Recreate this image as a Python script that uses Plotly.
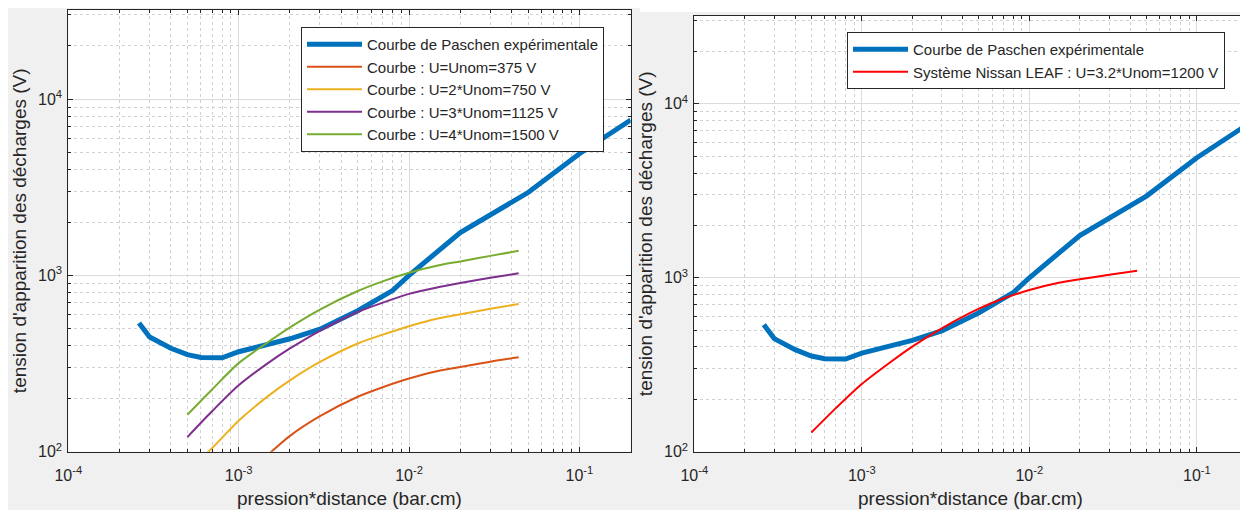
import plotly.graph_objects as go
import numpy as np

# ---------------- data ----------------
paschen_pd = [2.6e-4, 3e-4, 4e-4, 5e-4, 6e-4, 8e-4, 1e-3, 2e-3, 3e-3, 5e-3, 8e-3, 1e-2, 2e-2, 5e-2, 1e-1, 2e-1]
paschen_v = [537, 447, 386, 355, 342, 341, 369, 437, 495, 630, 820, 1000, 1750, 2950, 4900, 7600]

curve_pd = [5e-4, 7e-4, 1e-3, 1.5e-3, 2e-3, 3e-3, 5e-3, 7e-3, 1e-2, 1.5e-2, 2e-2, 3e-2, 4.4e-2]
u1_v = [39, 53, 71, 97, 123, 159, 205, 232, 260, 288, 302, 324, 343]
u2_v = [77, 105, 150, 208, 254, 323, 411, 461, 515, 571, 602, 646, 688]
u3_v = [121, 170, 238, 320, 385, 485, 620, 700, 785, 858, 906, 968, 1028]
u4_v = [162, 226, 318, 420, 507, 640, 815, 925, 1035, 1140, 1200, 1290, 1378]
nissan_v = [129, 178, 245, 330, 402, 512, 664, 760, 850, 935, 980, 1040, 1097]

x_tickvals = [1e-4, 1e-3, 1e-2, 1e-1]
x_ticktext = ["10<sup>-4</sup>", "10<sup>-3</sup>", "10<sup>-2</sup>", "10<sup>-1</sup>"]
y_tickvals = [1e2, 1e3, 1e4]
y_ticktext = ["10<sup>2</sup>", "10<sup>3</sup>", "10<sup>4</sup>"]

x_title = "pression*distance (bar.cm)"
y_title = "tension d'apparition des décharges (V)"

labels_left = ["Courbe de Paschen expérimentale", "Courbe : U=Unom=375 V",
               "Courbe : U=2*Unom=750 V", "Courbe : U=3*Unom=1125 V",
               "Courbe : U=4*Unom=1500 V"]
labels_right = ["Courbe de Paschen expérimentale",
                "Système Nissan LEAF : U=3.2*Unom=1200 V"]

C_BLUE = "#0072BD"
C_ORANGE = "#D95319"
C_YELLOW = "#EDB120"
C_PURPLE = "#7E2F8E"
C_GREEN = "#77AC30"
C_RED = "#FF0000"

W, H = 1248, 510
OFF = 8  # page body margin: figure is drawn 8 px right/down of the window corner
FONT = "Liberation Sans, Arial, Helvetica, sans-serif"
TXT = "#262626"


def px(sx):
    return (sx - OFF) / W


def py(sy):
    return 1 - (sy - OFF) / H


fig = go.Figure()

# left subplot
fig.add_trace(go.Scatter(x=paschen_pd, y=paschen_v, mode="lines", name=labels_left[0],
                         line=dict(color=C_BLUE, width=5), xaxis="x", yaxis="y", legend="legend"))
for vals, col, lab in [(u1_v, C_ORANGE, labels_left[1]), (u2_v, C_YELLOW, labels_left[2]),
                       (u3_v, C_PURPLE, labels_left[3]), (u4_v, C_GREEN, labels_left[4])]:
    fig.add_trace(go.Scatter(x=curve_pd, y=vals, mode="lines", name=lab,
                             line=dict(color=col, width=2, shape="spline", smoothing=0.8),
                             xaxis="x", yaxis="y", legend="legend"))

# right subplot
fig.add_trace(go.Scatter(x=paschen_pd, y=paschen_v, mode="lines", name=labels_right[0],
                         line=dict(color=C_BLUE, width=5), xaxis="x2", yaxis="y2", legend="legend2"))
fig.add_trace(go.Scatter(x=curve_pd, y=nissan_v, mode="lines", name=labels_right[1],
                         line=dict(color=C_RED, width=2, shape="spline", smoothing=0.8),
                         xaxis="x2", yaxis="y2", legend="legend2"))

minor_x = [m * 10.0 ** e for e in range(-4, 0) for m in range(2, 10)]
minor_x = [v for v in minor_x if v <= 0.2]
minor_y = [m * 10.0 ** e for e in range(2, 5) for m in range(2, 10)]
minor_y = [v for v in minor_y if v <= 32000]


def xaxis_style(domain, anchor):
    return dict(type="log", range=[-4, np.log10(0.2)], domain=domain, anchor=anchor,
                automargin=False,
                tickmode="array", tickvals=x_tickvals, ticktext=x_ticktext,
                ticks="inside", ticklen=5, tickcolor=TXT, tickwidth=1,
                ticklabelstandoff=9,
                showline=True, linecolor=TXT, linewidth=1, mirror="allticks",
                showgrid=True, gridcolor="#dcdcdc", gridwidth=1,
                minor=dict(tickmode="array", tickvals=minor_x, ticks="inside", ticklen=3,
                           tickcolor=TXT, showgrid=True, gridcolor="#d2d2d2", griddash="dot",
                           gridwidth=1),
                tickfont=dict(family=FONT, size=16, color=TXT),
                zeroline=False)


def yaxis_style(domain, anchor):
    return dict(type="log", range=[2, 4.505], domain=domain, anchor=anchor,
                automargin=False,
                tickmode="array", tickvals=y_tickvals, ticktext=y_ticktext,
                ticks="inside", ticklen=5, tickcolor=TXT, tickwidth=1,
                ticklabelstandoff=2,
                showline=True, linecolor=TXT, linewidth=1, mirror="allticks",
                showgrid=True, gridcolor="#dcdcdc", gridwidth=1,
                minor=dict(tickmode="array", tickvals=minor_y, ticks="inside", ticklen=3,
                           tickcolor=TXT, showgrid=True, gridcolor="#d2d2d2", griddash="dot",
                           gridwidth=1),
                tickfont=dict(family=FONT, size=16, color=TXT),
                zeroline=False)


legend_common = dict(font=dict(family=FONT, size=15, color=TXT), bgcolor="white",
                     bordercolor=TXT, borderwidth=1, xanchor="left", yanchor="top",
                     itemwidth=55, tracegroupgap=0, itemclick=False)

XL = [68.3, 630.7]
XR = [694.3, 1247.3]
YT_L, YT_R, YB = 10, 16, 451.7

annotations = []
for (xa, xb, yt) in [(XL[0], XL[1], YT_L), (XR[0], XR[1], YT_R)]:
    annotations.append(dict(text=x_title, xref="paper", yref="paper",
                            x=px((xa + xb) / 2), y=py(498), xanchor="center", yanchor="middle",
                            showarrow=False, font=dict(family=FONT, size=19, color=TXT)))
    annotations.append(dict(text=y_title, xref="paper", yref="paper", textangle=-90,
                            x=px(xa - 48), y=py((yt + YB) / 2), xanchor="center", yanchor="middle",
                            showarrow=False, font=dict(family=FONT, size=19, color=TXT)))

fig.update_layout(
    width=W, height=H,
    margin=dict(l=0, r=0, t=0, b=0, autoexpand=False),
    paper_bgcolor="#f0f0f0", plot_bgcolor="white",
    showlegend=True,
    xaxis=xaxis_style([px(XL[0]), px(XL[1])], "y"),
    yaxis=yaxis_style([py(YB), py(YT_L)], "x"),
    xaxis2=xaxis_style([px(XR[0]), px(XR[1])], "y2"),
    yaxis2=yaxis_style([py(YB), py(YT_R)], "x2"),
    legend=dict(x=px(301), y=py(27), **legend_common),
    legend2=dict(x=px(847), y=py(32), **legend_common),
    annotations=annotations,
    shapes=[
        dict(type="rect", xref="paper", yref="paper", x0=px(640), x1=1, y0=py(12), y1=1,
             fillcolor="white", line=dict(width=0), layer="below"),
    ],
)

fig.write_html("out.html")
